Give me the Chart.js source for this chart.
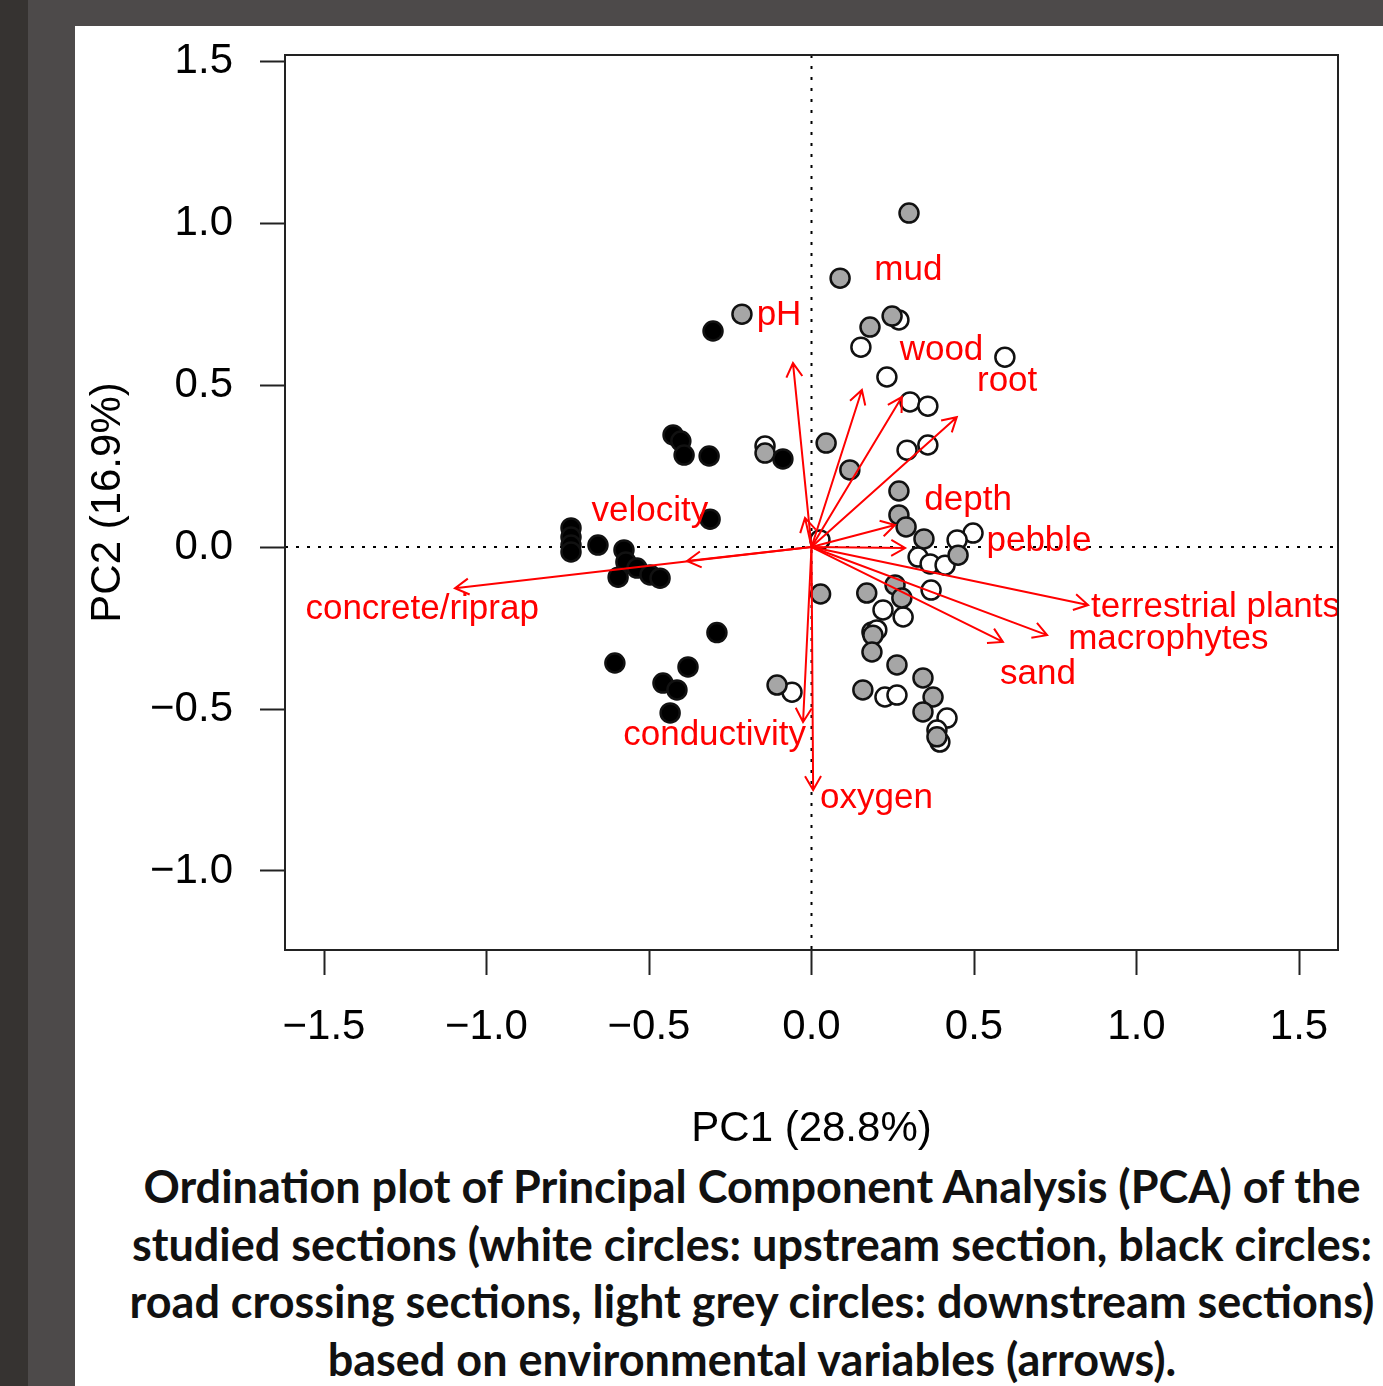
<!DOCTYPE html>
<html lang="en">
<head>
    <meta charset="UTF-8">
    <title>PCA ordination plot</title>
    <script src="https://cdn.jsdelivr.net/npm/chart.js"></script>
    <style>
        html, body { margin: 0; padding: 0; }
        body { width: 1383px; height: 1386px; background: #4d4a4a; position: relative; overflow: hidden; }
        .strip { position: absolute; left: 0; top: 0; width: 28px; height: 1386px; background: #363331; }
        .panel { position: absolute; left: 75px; top: 26px; width: 1308px; height: 1360px; background: #fff; }
        #pcaChart { position: absolute; left: 75px; top: 26px; }
        .caption {
            position: absolute; left: 76px; top: 1158px; width: 1352px;
            text-align: center; white-space: nowrap;
            font-family: Lato, "Open Sans", sans-serif; font-weight: bold;
            font-size: 45px; line-height: 57.5px; color: #111;
        }
    </style>
</head>
<body>
    <div class="strip"></div>
    <div class="panel"></div>
    <canvas id="pcaChart" width="1308" height="1131"></canvas>
    <div class="caption">
        Ordination plot of Principal Component Analysis (PCA) of the<br>
        studied sections (white circles: upstream section, black circles:<br>
        road crossing sections, light grey circles: downstream sections)<br>
        based on environmental variables (arrows).
    </div>

    <script>
        // Site scores (PC1, PC2)
        const upX = [0.269, 0.152, 0.595, 0.232, 0.303, 0.358, 0.294, 0.358, -0.143, 0.026, 0.497, 0.448, 0.328,
                     0.365, 0.411, 0.368, 0.220, 0.282, 0.186, 0.201, -0.060, 0.226, 0.263, 0.417, 0.386, 0.395];
        const upY = [0.701, 0.617, 0.586, 0.525, 0.448, 0.435, 0.299, 0.315, 0.312, 0.022, 0.043, 0.022, -0.031,
                     -0.052, -0.056, -0.133, -0.194, -0.216, -0.262, -0.256, -0.448, -0.463, -0.457, -0.528, -0.565, -0.602];

        const roadX = [-0.303, -0.426, -0.402, -0.392, -0.315, -0.088, -0.312, -0.740, -0.740, -0.740, -0.740, -0.657,
                       -0.577, -0.571, -0.595, -0.537, -0.497, -0.466, -0.291, -0.605, -0.457, -0.414, -0.380, -0.435];
        const roadY = [0.667, 0.346, 0.327, 0.284, 0.281, 0.272, 0.086, 0.059, 0.031, 0.006, -0.015, 0.006,
                       -0.009, -0.046, -0.093, -0.065, -0.086, -0.096, -0.264, -0.358, -0.420, -0.441, -0.370, -0.512];

        const downX = [0.300, 0.088, -0.214, 0.180, 0.248, 0.045, 0.118, -0.143, 0.269, 0.269, 0.291, 0.346, 0.451,
                       0.028, 0.170, 0.257, 0.278, 0.189, 0.186, 0.263, 0.158, 0.343, 0.374, 0.343, 0.386, -0.106];
        const downY = [1.031, 0.830, 0.719, 0.679, 0.713, 0.321, 0.238, 0.290, 0.173, 0.099, 0.062, 0.025, -0.025,
                       -0.145, -0.142, -0.117, -0.157, -0.272, -0.324, -0.364, -0.441, -0.404, -0.463, -0.509, -0.586, -0.426];

        // Environmental variables (arrow tips and label anchors)
        const varNames = ['concrete/riprap', 'velocity', 'pH', 'mud', 'wood', 'root', 'depth', 'pebble',
                          'terrestrial plants', 'macrophytes', 'sand', 'conductivity', 'oxygen', ''];
        const arrowX = [-1.097, -0.383, -0.057, 0.155, 0.278, 0.447, 0.257, 0.288, 0.851, 0.725, 0.589, -0.026, 0.005, -0.020];
        const arrowY = [-0.127, -0.043, 0.568, 0.485, 0.463, 0.401, 0.068, -0.003, -0.179, -0.272, -0.293, -0.540, -0.750, 0.090];
        const labelX = [-1.198, -0.497, -0.100, 0.298, 0.400, 0.602, 0.482, 0.700, 1.243, 1.098, 0.697, -0.298, 0.200, 0];
        const labelY = [-0.193, 0.110, 0.714, 0.854, 0.608, 0.511, 0.144, 0.017, -0.187, -0.286, -0.393, -0.582, -0.776, 0];

        // Axes
        const xTicks = [-1.5, -1.0, -0.5, 0.0, 0.5, 1.0, 1.5];
        const yTicks = [-1.0, -0.5, 0.0, 0.5, 1.0, 1.5];
        const xTitle = 'PC1 (28.8%)';
        const yTitle = 'PC2 (16.9%)';

        const AXIS_FONT = 'Liberation Sans, Arial, sans-serif';
        const fmt = v => (v < 0 ? '\u2212' : '') + Math.abs(v).toFixed(1);
        const toPoints = (xs, ys) => xs.map((x, i) => ({ x: x, y: ys[i] }));

        // dotted zero lines, arrows, labels and the box
        const biplotOverlay = {
            id: 'biplotOverlay',
            beforeDatasetsDraw(chart) {
                const { ctx, chartArea: a, scales: { x, y } } = chart;
                const x0 = x.getPixelForValue(0), y0 = y.getPixelForValue(0);
                ctx.save();
                ctx.strokeStyle = '#000';
                ctx.lineWidth = 2;
                ctx.setLineDash([3, 8]);
                ctx.beginPath();
                ctx.moveTo(x0, a.top); ctx.lineTo(x0, a.bottom);
                ctx.moveTo(a.left, y0); ctx.lineTo(a.right, y0);
                ctx.stroke();
                ctx.restore();
            },
            afterDatasetsDraw(chart) {
                const { ctx, chartArea: a, scales: { x, y } } = chart;
                const ox = x.getPixelForValue(0), oy = y.getPixelForValue(0);
                ctx.save();
                ctx.beginPath();
                ctx.rect(a.left, a.top, a.right - a.left, a.bottom - a.top);
                ctx.clip();

                ctx.strokeStyle = '#ff0000';
                ctx.lineWidth = 2;
                const head = 16, spread = Math.PI / 6;
                varNames.forEach((name, i) => {
                    const tx = x.getPixelForValue(arrowX[i]);
                    const ty = y.getPixelForValue(arrowY[i]);
                    const ang = Math.atan2(ty - oy, tx - ox);
                    ctx.beginPath();
                    ctx.moveTo(ox, oy);
                    ctx.lineTo(tx, ty);
                    ctx.moveTo(tx - head * Math.cos(ang - spread), ty - head * Math.sin(ang - spread));
                    ctx.lineTo(tx, ty);
                    ctx.lineTo(tx - head * Math.cos(ang + spread), ty - head * Math.sin(ang + spread));
                    ctx.stroke();
                });

                ctx.fillStyle = '#ff0000';
                ctx.font = '35px ' + AXIS_FONT;
                ctx.textAlign = 'center';
                ctx.textBaseline = 'middle';
                varNames.forEach((name, i) => {
                    if (!name) return;
                    ctx.fillText(name, x.getPixelForValue(labelX[i]), y.getPixelForValue(labelY[i]));
                });
                ctx.restore();

                ctx.save();
                ctx.strokeStyle = '#222';
                ctx.lineWidth = 2;
                ctx.strokeRect(a.left, a.top, a.right - a.left, a.bottom - a.top);
                ctx.restore();
            }
        };

        const pointStyle = (fill) => ({
            backgroundColor: fill,
            borderColor: '#111',
            borderWidth: 2.5,
            pointRadius: 9.5,
            pointHoverRadius: 9.5
        });

        new Chart(document.getElementById('pcaChart'), {
            type: 'scatter',
            data: {
                datasets: [
                    { label: 'downstream', data: toPoints(downX, downY), ...pointStyle('#a6a6a6') },
                    { label: 'upstream', data: toPoints(upX, upY), ...pointStyle('#ffffff') },
                    { label: 'road crossing', data: toPoints(roadX, roadY), ...pointStyle('#000000') }
                ]
            },
            options: {
                responsive: false,
                animation: false,
                events: [],
                layout: { padding: { top: 29, right: 45, left: 0, bottom: 0 } },
                plugins: { legend: { display: false }, tooltip: { enabled: false } },
                scales: {
                    x: {
                        type: 'linear', min: -1.62, max: 1.62,
                        afterBuildTicks: s => { s.ticks = xTicks.map(v => ({ value: v })); },
                        afterFit: s => { s.height = 207; s.paddingLeft = 0; s.paddingRight = 0; },
                        ticks: {
                            callback: v => fmt(v), autoSkip: false, maxRotation: 0,
                            padding: 27, color: '#000', font: { family: AXIS_FONT, size: 42 }
                        },
                        grid: { drawOnChartArea: false, tickLength: 25, tickWidth: 2, tickColor: '#222' },
                        border: { display: false },
                        title: {
                            display: true, text: xTitle, color: '#000',
                            font: { family: AXIS_FONT, size: 42 }, padding: { top: 0, bottom: 2 }
                        }
                    },
                    y: {
                        type: 'linear', min: -1.244, max: 1.519,
                        afterBuildTicks: s => { s.ticks = yTicks.map(v => ({ value: v })); },
                        afterFit: s => { s.width = 210; s.paddingTop = 0; s.paddingBottom = 0; },
                        ticks: {
                            callback: v => fmt(v), autoSkip: false,
                            padding: 27, color: '#000', font: { family: AXIS_FONT, size: 42 }
                        },
                        grid: { drawOnChartArea: false, tickLength: 25, tickWidth: 2, tickColor: '#222' },
                        border: { display: false },
                        title: {
                            display: true, text: yTitle, color: '#000',
                            font: { family: AXIS_FONT, size: 42 }, padding: { top: 8, bottom: 0 }
                        }
                    }
                }
            },
            plugins: [biplotOverlay]
        });
    </script>
</body>
</html>
